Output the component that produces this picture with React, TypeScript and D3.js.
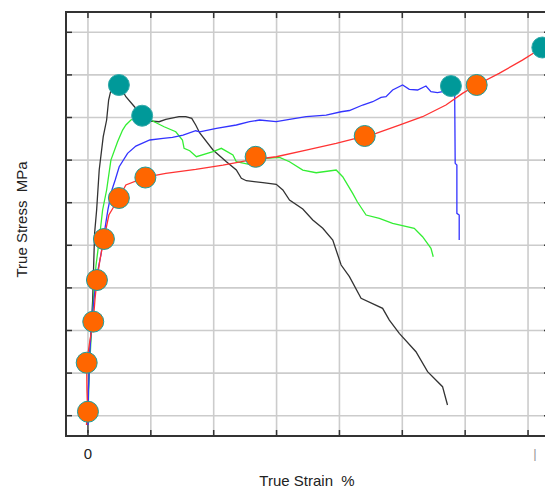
import React from 'react';
import * as d3 from 'd3';

// values: [strain %, stress MPa]
const blackCurve: [number, number][] = [
  [0, -40.6], [0, 36.9], [0.32, 154.2], [0.75, 271.6], [0.9, 349.7], [1.06, 428.9], [1.38, 482.9],
  [1.79, 576.7], [2.43, 654.9], [2.97, 694.1], [3.29, 741.1], [3.6, 760.6], [4.13, 783.3], [4.92, 778.6],
  [6.03, 748.8], [7.3, 727.0], [8.68, 703.5], [9.84, 691.8], [11.32, 690.1], [12.38, 695.8], [14.49, 701.9],
  [15.56, 701.9], [16.51, 698.1], [17.14, 682.4], [17.78, 663.6], [19.89, 623.7], [22.02, 596.2],
  [23.6, 576.7], [24.4, 557.3], [25.19, 551.6], [27.83, 546.9], [29.95, 543.2], [31.0, 529.8],
  [32.06, 506.3], [34.17, 485.2], [35.76, 459.4], [37.35, 439.9], [38.94, 412.4], [40.27, 353.7],
  [41.59, 326.3], [43.44, 275.6], [46.87, 252.1], [47.94, 224.6], [49.52, 193.4], [52.17, 150.2],
  [54.02, 103.3], [56.4, 68.1], [57.19, 25.1],
];

const greenCurve: [number, number][] = [
  [0, -10.1], [0.16, 83.8], [0.48, 177.7], [0.87, 271.6], [1.27, 351.4], [1.79, 412.4], [2.33, 482.9],
  [2.97, 529.8], [3.65, 600.1], [4.71, 643.1], [5.51, 670.6], [6.03, 682.4], [6.83, 694.1], [7.94, 701.1],
  [9.21, 701.1], [10.52, 690.1], [12.11, 678.3], [13.97, 666.5], [15.03, 647.2], [15.29, 627.6],
  [16.19, 622.0], [17.25, 607.9], [19.89, 619.7], [21.22, 627.6], [23.06, 611.9], [23.6, 596.2],
  [25.44, 590.8], [28.37, 604.2], [30.48, 606.5], [32.06, 596.2], [34.17, 576.7], [36.3, 570.3],
  [39.48, 576.7], [40.52, 561.0], [42.11, 522.0], [42.86, 501.6], [44.24, 471.1], [46.35, 463.3],
  [48.46, 451.6], [51.9, 439.9], [53.22, 420.2], [54.56, 392.9], [54.92, 373.2],
];

const blueCurve: [number, number][] = [
  [0, -21.8], [0.08, 60.3], [0.32, 154.2], [0.63, 224.6], [1.03, 283.3], [1.43, 330.2], [2.06, 377.2],
  [2.54, 424.1], [3.17, 482.9], [3.81, 529.8], [4.33, 553.2], [4.97, 584.4], [6.3, 615.9], [7.62, 633.0],
  [9.84, 647.2], [11.95, 651.1], [13.44, 653.4], [15.13, 658.8], [17.14, 668.9], [17.78, 666.5],
  [20.43, 674.6], [23.6, 682.4], [25.71, 690.1], [27.3, 694.1], [29.95, 690.1], [32.06, 695.8],
  [34.71, 701.9], [37.89, 705.8], [40.27, 713.5], [41.59, 716.4], [43.7, 729.3], [45.29, 737.0],
  [46.62, 747.4], [47.41, 748.8], [48.46, 764.5], [50.05, 776.3], [51.11, 766.1], [52.43, 764.5],
  [53.76, 773.9], [54.56, 760.5], [55.6, 758.2], [56.4, 760.5], [57.46, 769.2], [58.33, 759.8],
  [58.41, 592.4], [58.68, 588.4], [58.68, 475.1], [59.05, 471.1], [59.05, 412.4],
];

const redCurve: [number, number][] = [
  [-0.24, -21.8], [-0.05, 9.4], [-0.16, 60.3], [-0.21, 124.4], [0.32, 177.7], [0.84, 220.7],
  [1.11, 271.6], [1.43, 318.5], [1.9, 365.4], [2.54, 414.8], [3.33, 471.1], [4.92, 511.0], [6.03, 541.5],
  [9.21, 560.2], [12.38, 568.9], [17.14, 578.3], [21.48, 588.4], [25.71, 600.1], [29.95, 607.9],
  [34.71, 623.6], [39.48, 639.3], [44.02, 656.5], [45.83, 662.8], [49.52, 682.3], [53.22, 701.8],
  [56.94, 729.2], [59.57, 756.7], [61.83, 776.2], [65.4, 803.6], [69.1, 834.8], [71.22, 854.3],
  [72.27, 864.2],
];

const orangeMarkers: [number, number][] = [
  [0.0, 9.4], [-0.2, 124.4], [0.84, 220.7], [1.43, 318.5], [2.54, 414.8], [4.92, 511.0],
  [9.13, 559.1], [26.67, 607.7], [44.02, 656.6], [61.83, 776.3],
];

const tealMarkers: [number, number][] = [
  [4.92, 776.3], [8.62, 704.2], [57.73, 773.9], [72.27, 864.3],
];

const xTicks = [0, 10, 20, 30, 40, 50, 60, 70];
const yTicks = [0, 100, 200, 300, 400, 500, 600, 700, 800, 900];
const xTickLabels = ['0', '', '', '', '', '', '', ''];

const W = 545;
const H = 489;
const left = 66, right = 550, top = 12, bottom = 436;

export default function App() {
  const x = d3.scaleLinear().domain([-3.492, 73.492]).range([left, right]);
  const y = d3.scaleLinear().domain([-47.65, 947.65]).range([bottom, top]);
  const line = d3.line<[number, number]>().x(d => x(d[0])).y(d => y(d[1]));

  const curves = [
    { data: blackCurve, color: '#333333' },
    { data: greenCurve, color: '#33ee33' },
    { data: blueCurve, color: '#3333ff' },
    { data: redCurve, color: '#ff3333' },
  ];

  const font = '"Liberation Sans", Arial, sans-serif';

  return (
    <svg width={W} height={H} style={{ position: 'absolute', left: 0, top: 0, background: '#fff' }}>
      <rect x={0} y={0} width={W} height={H} fill="#fff" />
      <defs>
        <clipPath id="plot">
          <rect x={left} y={top} width={right - left} height={bottom - top} />
        </clipPath>
      </defs>
      {/* grid */}
      {xTicks.map(t => (
        <line key={'gx' + t} x1={x(t)} x2={x(t)} y1={top} y2={bottom} stroke="#cccccc" strokeWidth={1.6} />
      ))}
      {yTicks.map(t => (
        <line key={'gy' + t} x1={left} x2={right} y1={y(t)} y2={y(t)} stroke="#cccccc" strokeWidth={1.6} />
      ))}
      {/* curves */}
      <g clipPath="url(#plot)">
        {curves.map((c, i) => (
          <path key={i} d={line(c.data) || ''} fill="none" stroke={c.color} strokeWidth={1.3} />
        ))}
      </g>
      {/* frame */}
      <rect x={left} y={top} width={right - left} height={bottom - top} fill="none" stroke="#333" strokeWidth={2} />
      {/* ticks */}
      {xTicks.map(t => (
        <g key={'tx' + t} stroke="#333" strokeWidth={1.5}>
          <line x1={x(t)} x2={x(t)} y1={top} y2={top + 6} />
          <line x1={x(t)} x2={x(t)} y1={bottom} y2={bottom - 6} />
        </g>
      ))}
      {yTicks.map(t => (
        <g key={'ty' + t} stroke="#333" strokeWidth={1.5}>
          <line x1={left} x2={left + 6} y1={y(t)} y2={y(t)} />
          <line x1={right} x2={right - 6} y1={y(t)} y2={y(t)} />
        </g>
      ))}
      {/* markers */}
      {orangeMarkers.map((d, i) => (
        <circle key={'o' + i} cx={x(d[0])} cy={y(d[1])} r={10.5} fill="#ff6600" stroke="#1a9e9e" strokeWidth={1} />
      ))}
      {tealMarkers.map((d, i) => (
        <circle key={'t' + i} cx={x(d[0])} cy={y(d[1])} r={10.5} fill="#009999" stroke="#33aaaa" strokeWidth={1} />
      ))}
      {/* labels */}
      {xTicks.map((t, i) => (
        <text key={'lx' + t} x={x(t)} y={459} textAnchor="middle" fontFamily={font} fontSize={15} fill="#222">
          {xTickLabels[i]}
        </text>
      ))}
      <text x={535} y={458} textAnchor="middle" fontFamily={font} fontSize={13} fill="#999">|</text>
      <text x={307} y={486} textAnchor="middle" fontFamily={font} fontSize={15} fill="#222" style={{ whiteSpace: 'pre' }}>
        True Strain  %
      </text>
      <text
        transform="translate(27,219.5) rotate(-90)"
        textAnchor="middle"
        fontFamily={font}
        fontSize={15}
        fill="#222"
        style={{ whiteSpace: 'pre' }}
      >
        True Stress  MPa
      </text>
    </svg>
  );
}
